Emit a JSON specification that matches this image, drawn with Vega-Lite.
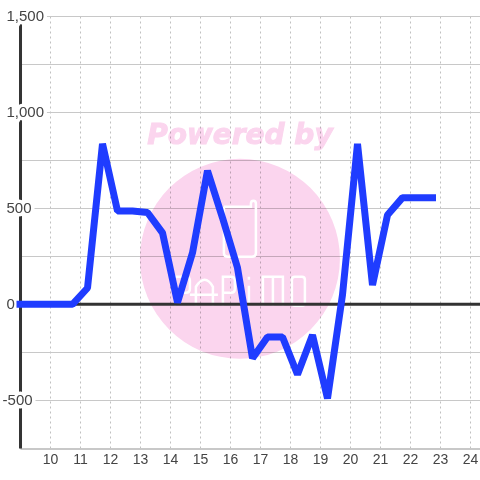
{
"$schema":"https://vega.github.io/schema/vega-lite/v6.json",
"width":460,"height":432.5,"padding":{"left":20,"top":16,"right":0,"bottom":31.5},
"autosize":{"type":"none"},
"background":"white",
"config":{"view":{"stroke":null}},
"datasets":{
"series":[{"h":9,"v":0},{"h":9.25,"v":0},{"h":9.75,"v":0},{"h":10.25,"v":0},{"h":10.75,"v":0},{"h":11.25,"v":85},{"h":11.75,"v":835},{"h":12.25,"v":485},{"h":12.75,"v":485},{"h":13.25,"v":478},{"h":13.75,"v":372},{"h":14.25,"v":10},{"h":14.75,"v":268},{"h":15.25,"v":695},{"h":15.75,"v":450},{"h":16.25,"v":190},{"h":16.75,"v":-280},{"h":17.25,"v":-170},{"h":17.75,"v":-170},{"h":18.25,"v":-365},{"h":18.75,"v":-160},{"h":19.25,"v":-490},{"h":19.75,"v":50},{"h":20.25,"v":835},{"h":20.75,"v":100},{"h":21.25,"v":465},{"h":21.75,"v":555},{"h":22.25,"v":555},{"h":22.75,"v":555}],
"labels":[{"h":9.017,"v":1500,"t":"1,500"},{"h":9.017,"v":1000,"t":"1,000"},{"h":9.017,"v":500,"t":"500"},{"h":9.017,"v":0,"t":"0"},{"h":8.887,"v":-500,"t":"-500"}],
"mark":[{"h":16.33,"v":237,"t":"Powered by"}]
},
"encoding":{
"x":{"field":"h","type":"quantitative","scale":{"domain":[9,24.3333],"nice":false,"zero":false},
"axis":{"title":null,"values":[10,11,12,13,14,15,16,17,18,19,20,21,22,23,24],"domain":false,"ticks":false,"labelPadding":4,"labelFontSize":14,"labelFont":"Liberation Sans","labelColor":"#444444","grid":true,"gridColor":"#c0c0c0","gridDash":[2,3],"gridWidth":1,"labelFlush":false}},
"y":{"field":"v","type":"quantitative","scale":{"domain":[-750,1500],"nice":false},
"axis":{"title":null,"values":[-750,-500,-250,0,250,500,750,1000,1250,1500],"grid":true,"gridColor":"#c8c8c8","gridWidth":1,"domain":false,"ticks":false,"labels":false}}
},
"layer":[
{"data":{"name":"series"},"mark":{"type":"rule","color":"#c8c8c8","strokeWidth":1},"transform":[{"filter":"datum.h==9"}],"encoding":{"x":{"datum":9},"x2":{"datum":24.3333},"y":{"datum":-750}}},
{"data":{"name":"mark"},"mark":{"type":"point","shape":"circle","filled":true,"color":"#fbd5ee","opacity":1,"size":40000,"blend":"multiply"},"encoding":{"x":{"field":"h","type":"quantitative"},"y":{"field":"v","type":"quantitative"}}},
{"data":{"name":"mark"},"mark":{"type":"text","text":"Powered by","font":"DejaVu Sans","fontStyle":"italic","fontWeight":"bold","fontSize":28,"color":"#fbd5ee","stroke":"#fbd5ee","strokeWidth":1,"dy":-123,"blend":"multiply"},"encoding":{"x":{"field":"h","type":"quantitative"},"y":{"field":"v","type":"quantitative"}}},
{"data":{"name":"mark"},"mark":{"type":"point","shape":"M-16,-52 H11 V-55 Q11,-58 13.5,-58 Q16,-58 16,-55 V-6 Q16,-2 12,-2 H-12 Q-16,-2 -16,-6 V-52 M-65,47 V18 H-54 Q-50,18 -50,22 V30 Q-50,34 -54,34 H-65 M-44,47 V28 Q-35,14 -27,28 V47 M-50,36 H-22 M-17,47 V18 H-9 Q-5,18 -5,22 V30 Q-5,34 -9,34 H-17 M9,18 V21 M9,27 V47 M23,47 V18 H43 V47 M33,18 V47 M55,18 H62 Q65,18 65,21 V44 Q65,47 62,47 H55 Q52,47 52,44 V21 Q52,18 55,18","filled":false,"color":"white","strokeWidth":2.5,"size":4,"opacity":1},"encoding":{"x":{"field":"h","type":"quantitative"},"y":{"field":"v","type":"quantitative"}}},
{"data":{"name":"series"},"mark":{"type":"rule","color":"#333333","strokeWidth":3},"transform":[{"filter":"datum.h==9"}],"encoding":{"x":{"datum":9},"x2":{"datum":24.3333},"y":{"datum":0}}},
{"data":{"name":"series"},"mark":{"type":"rule","color":"#333333","strokeWidth":3},"transform":[{"filter":"datum.h==9"}],"encoding":{"x":{"datum":9.017},"y":{"datum":-750},"y2":{"datum":1500}}},
{"data":{"name":"labels"},"mark":{"type":"text","align":"left","baseline":"middle","font":"Liberation Sans","fontSize":15,"color":"#444444","stroke":"white","strokeWidth":7,"dx":-14},"encoding":{"x":{"field":"h","type":"quantitative"},"y":{"field":"v","type":"quantitative"},"text":{"field":"t"}}},
{"data":{"name":"series"},"mark":{"type":"line","color":"#1f3cff","strokeWidth":7,"strokeCap":"square","strokeJoin":"bevel","clip":false},"encoding":{"x":{"field":"h","type":"quantitative"},"y":{"field":"v","type":"quantitative"}}},
{"data":{"name":"labels"},"mark":{"type":"text","align":"left","baseline":"middle","font":"Liberation Sans","fontSize":15,"color":"#444444","dx":-14},"encoding":{"x":{"field":"h","type":"quantitative"},"y":{"field":"v","type":"quantitative"},"text":{"field":"t"}}}
]
}
